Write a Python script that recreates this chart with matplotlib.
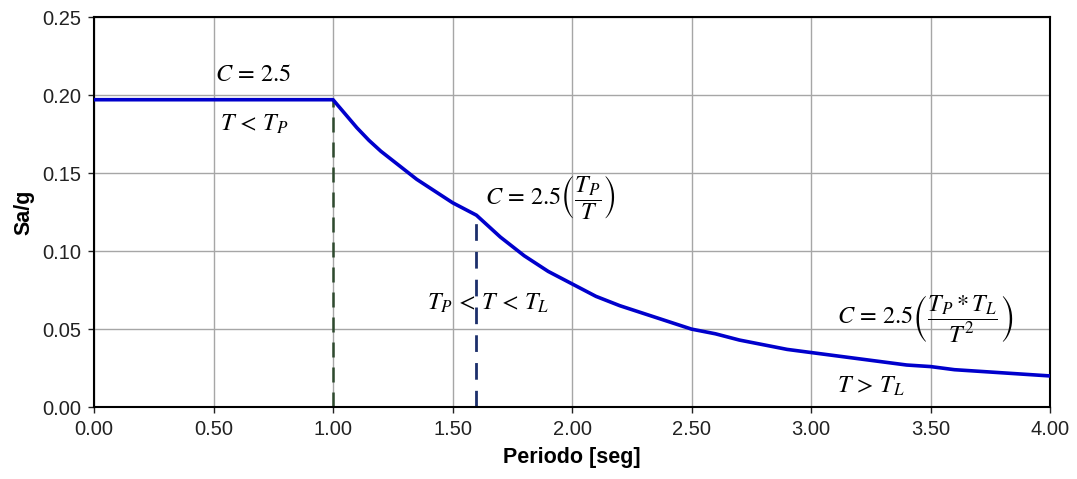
import matplotlib
matplotlib.use("Agg")
import matplotlib.pyplot as plt
import numpy as np

# Data
periods = [0.0, 1.0, 1.05, 1.1, 1.15, 1.2, 1.25, 1.3, 1.35, 1.4, 1.45, 1.5, 1.55, 1.6,
           1.65, 1.7, 1.75, 1.8, 1.85, 1.9, 1.95, 2.0, 2.1, 2.2, 2.3,
           2.4, 2.5, 2.6, 2.7, 2.8, 2.9, 3.0, 3.1, 3.2, 3.3, 3.4, 3.5, 3.6, 3.7,
           3.8, 3.9, 4.0]
sa_g = [0.197, 0.197, 0.188, 0.179, 0.171, 0.164, 0.158, 0.152, 0.146, 0.141, 0.136,
        0.131, 0.127, 0.123, 0.116, 0.109, 0.103, 0.097, 0.092, 0.087, 0.083,
        0.079, 0.071, 0.065, 0.060, 0.055, 0.050, 0.047, 0.043, 0.040, 0.037,
        0.035, 0.033, 0.031, 0.029, 0.027, 0.026, 0.024, 0.023, 0.022, 0.021, 0.020]
tp = 1.0
tp_sa = 0.197
tl = 1.6
tl_sa = 0.123
x_ticks = [0.0, 0.5, 1.0, 1.5, 2.0, 2.5, 3.0, 3.5, 4.0]
y_ticks = [0.0, 0.05, 0.10, 0.15, 0.20, 0.25]

plt.rcParams['font.family'] = ['Liberation Sans', 'DejaVu Sans']
plt.rcParams['mathtext.fontset'] = 'stix'

fig = plt.figure(figsize=(10.77, 4.79), dpi=100)
ax = fig.add_axes([0.0873, 0.150, 0.8877, 0.8145])

ax.plot(periods, sa_g, color='#0000cc', lw=2.6, zorder=3, solid_joinstyle='round',
        solid_capstyle='round')
ax.plot([tp, tp], [0, tp_sa], color='#2e4a2e', lw=1.8, dashes=(6, 4), zorder=2)
ax.plot([tl, tl], [0, tl_sa], color='#1c2f6b', lw=2.0, dashes=(6, 4), zorder=2)

ax.set_xlim(0, 4)
ax.set_ylim(0, 0.25)
ax.set_xticks(x_ticks)
ax.set_yticks(y_ticks)
ax.set_xticklabels([f"{v:.2f}" for v in x_ticks])
ax.set_yticklabels([f"{v:.2f}" for v in y_ticks])
ax.grid(True, color='#a6a6a6', lw=1.0)
ax.set_axisbelow(True)
for s in ax.spines.values():
    s.set_color('black')
    s.set_linewidth(1.5)
ax.tick_params(direction='out', length=4, width=1, labelsize=14.5, colors='#222222', pad=5)

ax.set_xlabel('Periodo [seg]', fontsize=15.5, fontweight='bold', labelpad=6)
ax.set_ylabel('Sa/g', fontsize=15.5, fontweight='bold', labelpad=6)

fs = 17.5
ax.text(0.506, 0.2128, r'$C\,=\,2.5$', fontsize=fs, va='center', ha='left')
ax.text(0.527, 0.181, r'$T\,<\,T_P$', fontsize=fs, va='center', ha='left')
ax.text(1.636, 0.1346, r'$C\,=\,2.5\left(\dfrac{T_P}{T}\right)$', fontsize=fs, va='center', ha='left')
ax.text(1.393, 0.0667, r'$T_P\,<\,T\,<\,T_L$', fontsize=fs, va='center', ha='left')
ax.text(3.108, 0.057, r'$C\,=\,2.5\left(\dfrac{T_P * T_L}{T^2}\right)$', fontsize=fs, va='center', ha='left')
ax.text(3.11, 0.0135, r'$T\,>\,T_L$', fontsize=fs, va='center', ha='left')

fig.savefig('out.png', dpi=100)
